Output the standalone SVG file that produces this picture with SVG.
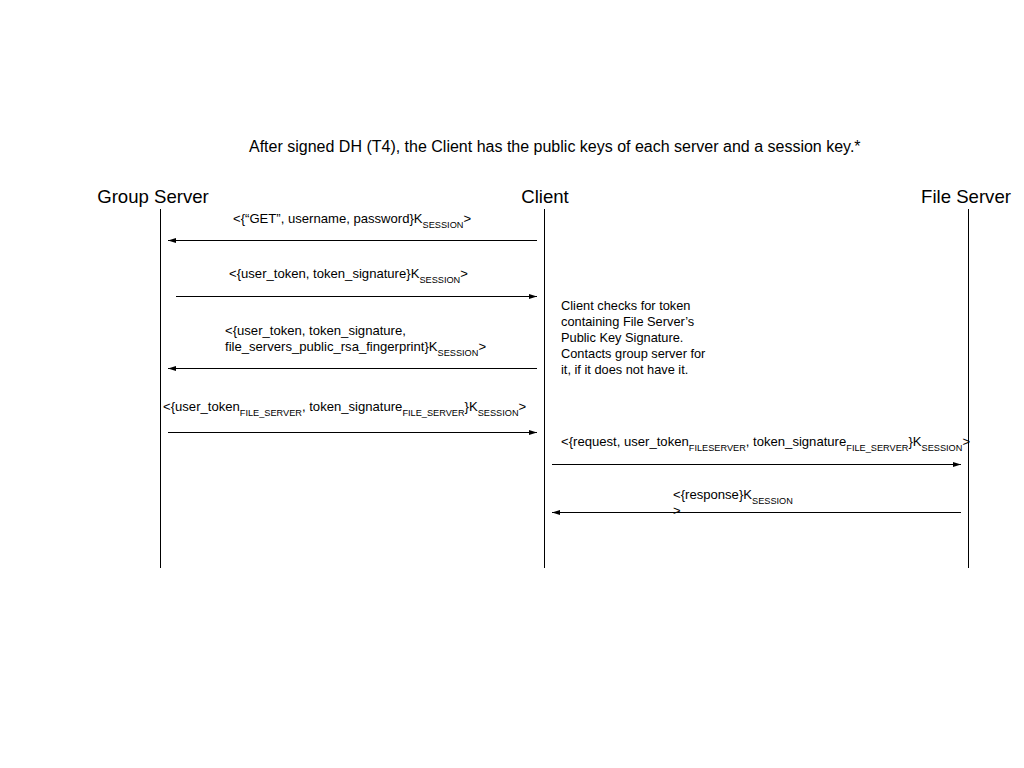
<svg xmlns="http://www.w3.org/2000/svg" width="1024" height="768" viewBox="0 0 1024 768">
<style>
text{font-family:"Liberation Sans",Arial,sans-serif;fill:#000}
.hdr{font-size:18.6px}
.ttl{font-size:16px}
.lbl{font-size:13.1px}
.note{font-size:12.8px}
.sub{font-size:9.2px}
.life{stroke:#000;stroke-width:1}
.msg{stroke:#000;stroke-width:1;fill:none;marker-end:url(#ah)}
</style>
<defs>
<marker id="ah" viewBox="0 0 10 6" refX="10" refY="3" markerWidth="8" markerHeight="5" markerUnits="userSpaceOnUse" orient="auto"><path d="M0,0 L10,3 L0,6 z" fill="#000"/></marker>
</defs>
<rect width="1024" height="768" fill="#fff"/>
<text class="ttl" x="249" y="152">After signed DH (T4), the Client has the public keys of each server and a session key.*</text>
<g id="group-server"><text class="hdr" x="153" y="203" text-anchor="middle">Group Server</text><line class="life" x1="160.5" y1="209" x2="160.5" y2="568"/></g>
<g id="client"><text class="hdr" x="545" y="203" text-anchor="middle">Client</text><line class="life" x1="544.5" y1="209" x2="544.5" y2="568"/></g>
<g id="file-server"><text class="hdr" x="966" y="203" text-anchor="middle">File Server</text><line class="life" x1="968.5" y1="209" x2="968.5" y2="568"/></g>
<g id="note"><text class="note"><tspan x="561" y="310">Client checks for token</tspan><tspan x="561" y="326">containing File Server’s</tspan><tspan x="561" y="342">Public Key Signature.</tspan><tspan x="561" y="358">Contacts group server for</tspan><tspan x="561" y="374">it, if it does not have it.</tspan></text></g>
<g id="connectors">
<line class="msg" x1="537" y1="240.5" x2="168" y2="240.5"/>
<line class="msg" x1="176" y1="296.5" x2="537" y2="296.5"/>
<line class="msg" x1="537" y1="368.5" x2="168" y2="368.5"/>
<line class="msg" x1="168" y1="432.5" x2="537" y2="432.5"/>
<line class="msg" x1="552" y1="464.5" x2="961" y2="464.5"/>
<line class="msg" x1="961" y1="512.5" x2="552" y2="512.5"/>
</g>
<g id="labels">
<text class="lbl" x="233" y="223">&lt;{“GET”, username, password}K<tspan class="sub" dy="5">SESSION</tspan><tspan dy="-5">&gt;</tspan></text>
<text class="lbl" x="229" y="278">&lt;{user_token, token_signature}K<tspan class="sub" dy="5">SESSION</tspan><tspan dy="-5">&gt;</tspan></text>
<text class="lbl" x="225" y="335">&lt;{user_token, token_signature,</text>
<text class="lbl" x="225" y="351">file_servers_public_rsa_fingerprint}K<tspan class="sub" dy="5">SESSION</tspan><tspan dy="-5">&gt;</tspan></text>
<text class="lbl" x="163" y="411">&lt;{user_token<tspan class="sub" dy="5">FILE_SERVER</tspan><tspan dy="-5">, token_signature</tspan><tspan class="sub" dy="5">FILE_SERVER</tspan><tspan dy="-5">}K</tspan><tspan class="sub" dy="5">SESSION</tspan><tspan dy="-5">&gt;</tspan></text>
<text class="lbl" x="561" y="446">&lt;{request, user_token<tspan class="sub" dy="5">FILESERVER</tspan><tspan dy="-5">, token_signature</tspan><tspan class="sub" dy="5">FILE_SERVER</tspan><tspan dy="-5">}K</tspan><tspan class="sub" dy="5">SESSION</tspan><tspan dy="-5">&gt;</tspan></text>
<text class="lbl" x="673" y="499">&lt;{response}K<tspan class="sub" dy="5">SESSION</tspan></text>
<text class="lbl" x="673" y="515">&gt;</text>
</g>
</svg>
